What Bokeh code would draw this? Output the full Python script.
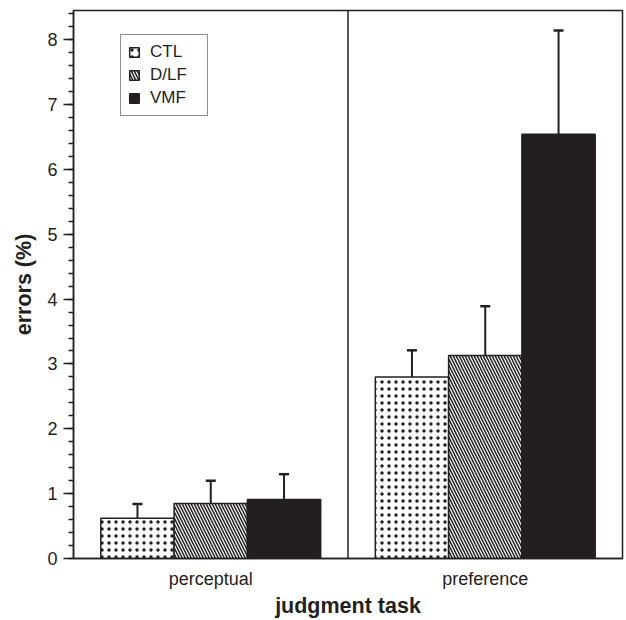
from bokeh.plotting import figure
from bokeh.models import (ColumnDataSource, Range1d, FactorRange, SingleIntervalTicker,
                          Span, Legend, LegendItem, Whisker, TeeHead)
from bokeh.transform import dodge
from bokeh.embed import file_html
from bokeh.resources import INLINE

cats = ["perceptual", "preference"]
groups = ["CTL", "D/LF", "VMF"]
ctl = [0.62, 2.80]
ctl_err = [0.22, 0.41]
dlf = [0.85, 3.13]
dlf_err = [0.35, 0.76]
vmf = [0.91, 6.54]
vmf_err = [0.39, 1.60]

INK = "#231f20"
FONT = "Liberation Sans"

p = figure(x_range=FactorRange(factors=cats, range_padding=0),
           y_range=Range1d(0, 8.45),
           width=626, height=620, output_backend="svg", toolbar_location=None,
           min_border_left=73, min_border_right=4, min_border_top=10, min_border_bottom=20,
           background_fill_color="white", border_fill_color="white")
p.xgrid.visible = False
p.ygrid.visible = False
p.outline_line_color = INK
p.outline_line_width = 1.5

bw = 0.267
series = [
    ("CTL", ctl, ctl_err, -bw, dict(fill_color="white", hatch_pattern="dot", hatch_scale=7, hatch_weight=2.4, hatch_color=INK)),
    ("D/LF", dlf, dlf_err, 0.0, dict(fill_color="white", hatch_pattern="\\", hatch_scale=6, hatch_weight=1.5, hatch_color=INK)),
    ("VMF", vmf, vmf_err, bw, dict(fill_color=INK)),
]

items = []
for name, vals, errs, off, style in series:
    src = ColumnDataSource(dict(cat=cats, val=vals,
                                upper=[v + e for v, e in zip(vals, errs)]))
    r = p.vbar(x=dodge("cat", off, range=p.x_range), top="val", width=bw, source=src,
               line_color=INK, line_width=1.5, **style)
    w = Whisker(base=dodge("cat", off, range=p.x_range), lower="val", upper="upper", source=src,
                line_color=INK, line_width=2,
                upper_head=TeeHead(size=10, line_color=INK, line_width=2.5), lower_head=None)
    p.add_layout(w)
    items.append(LegendItem(label=name, renderers=[r]))

p.add_layout(Span(location=1, dimension="height", line_color=INK, line_width=1.5))

legend = Legend(items=items, location=(47, 442), orientation="vertical",
                glyph_width=12, glyph_height=12, label_height=18, label_width=50,
                label_standoff=10, spacing=3, padding=7,
                label_text_font=FONT, label_text_font_size="17px", label_text_color=INK,
                border_line_color=INK, border_line_width=1.5,
                background_fill_color="white", background_fill_alpha=1)
p.add_layout(legend)

# y axis
p.yaxis.ticker = SingleIntervalTicker(interval=1, num_minor_ticks=5)
p.yaxis.major_tick_in = 0
p.yaxis.major_tick_out = 10
p.yaxis.minor_tick_in = 0
p.yaxis.minor_tick_out = 5
p.yaxis.axis_label = "errors (%)"
p.yaxis.major_label_standoff = 6
p.yaxis.axis_label_standoff = 8

# x axis
p.xaxis.axis_label = "judgment task"
p.xaxis.major_label_standoff = 4
p.xaxis.axis_label_standoff = 2

for ax in (p.xaxis, p.yaxis):
    ax.axis_line_color = INK
    ax.axis_line_width = 1.5
    ax.major_tick_line_width = 1.5
    ax.minor_tick_line_width = 1.5
    ax.major_label_text_font = FONT
    ax.major_label_text_font_size = "18px"
    ax.major_label_text_color = INK
    ax.axis_label_text_font = FONT
    ax.axis_label_text_font_size = "21.5px"
    ax.axis_label_text_font_style = "bold"
    ax.axis_label_text_color = INK
p.yaxis.major_tick_line_color = INK
p.yaxis.minor_tick_line_color = INK
p.xaxis.major_tick_line_color = None
p.xaxis.minor_tick_line_color = None

open("out.html", "w").write(file_html(p, INLINE))
